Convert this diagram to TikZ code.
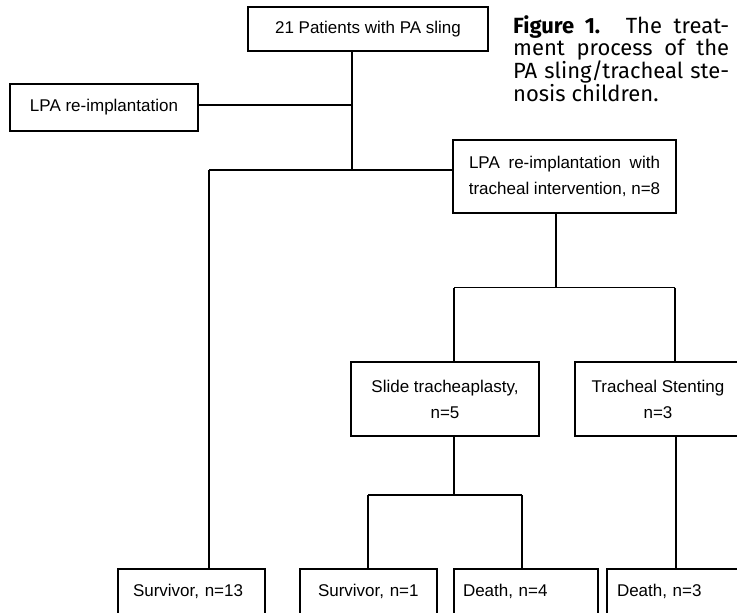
\documentclass[tikz,border=0pt]{standalone}
\usepackage{fontspec}
\setmainfont{Liberation Sans}
\newfontfamily\capfont{Fira Sans}
\begin{document}
\begin{tikzpicture}[x=1pt,y=-1pt,
  box/.style={draw, line width=1.5pt, inner sep=0pt, font=\fontsize{17}{26}\selectfont},
  botbox/.style={box, minimum height=45pt, align=left, inner ysep=0pt},
  conn/.style={line width=1.5pt}]
\useasboundingbox (0,0) rectangle (737,613);
\clip (0,0) rectangle (737,613);
% nodes
\node[box, minimum width=240pt, minimum height=44pt] (top) at (368,29) {21 Patients with PA sling};
\node[box, minimum width=188pt, minimum height=47pt] (lpa) at (104,107.5) {LPA re-implantation};
\node[box, minimum width=223pt, minimum height=73pt, align=center] (trach) at (564.5,176.5)
  {\makebox[191pt][s]{LPA re-implantation with}\\tracheal intervention, n=8};
\node[box, minimum width=188pt, minimum height=74pt, align=center] (slide) at (445,399) {Slide tracheaplasty,\\n=5};
\node[box, minimum width=166pt, minimum height=74pt, align=center] (stent) at (658,399) {Tracheal Stenting\\n=3};
\node[botbox, text width=117pt, inner xsep=15pt] (s13) at (191.5,591.5) {Survivor, n=13};
\node[botbox, text width=101pt, inner xsep=18pt] (s1) at (368.5,591.5) {Survivor, n=1};
\node[botbox, text width=126pt, inner xsep=9pt] (d4) at (526,591.5) {Death, n=4};
\node[botbox, text width=118pt, inner xsep=10pt] (d3) at (676,591.5) {Death, n=3};
% caption
\node[anchor=base west, inner sep=0pt] (cap) at (513,33) {\parbox[t]{216pt}{\capfont\fontsize{22}{23}\selectfont
  \makebox[216pt][s]{\textbf{Figure 1.} The treat-}\\
  \makebox[216pt][s]{ment process of the}\\
  \makebox[216pt][s]{PA sling/tracheal ste-}\\
  nosis children.}};
% junction coordinates
\coordinate (jl) at (352,105);
\coordinate (j1) at (352,170);
\coordinate (c13) at (209,170);
\coordinate (j2) at (556,287.5);
\coordinate (j2l) at (454,287.5);
\coordinate (j2r) at (675,287.5);
\coordinate (j3) at (454,495);
\coordinate (j3l) at (368,495);
\coordinate (j3r) at (522,495);
% connectors
\draw[conn] (top.south -| j1) -- (j1);
\draw[conn] (lpa.east |- jl) -- (jl);
\draw[conn] (c13) -- (j1 -| trach.west);
\draw[conn] (c13) -- (c13 |- s13.north);
\draw[conn] (trach.south -| j2) -- (j2);
\draw[conn] (j2l) -- (j2r);
\draw[conn] (j2l) -- (j2l |- slide.north);
\draw[conn] (j2r) -- (j2r |- stent.north);
\draw[conn] (slide.south -| j3) -- (j3);
\draw[conn] (j3l) -- (j3r);
\draw[conn] (j3l) -- (j3l |- s1.north);
\draw[conn] (j3r) -- (j3r |- d4.north);
\draw[conn] (stent.south -| d3.north) -- (d3.north);
\end{tikzpicture}
\end{document}
